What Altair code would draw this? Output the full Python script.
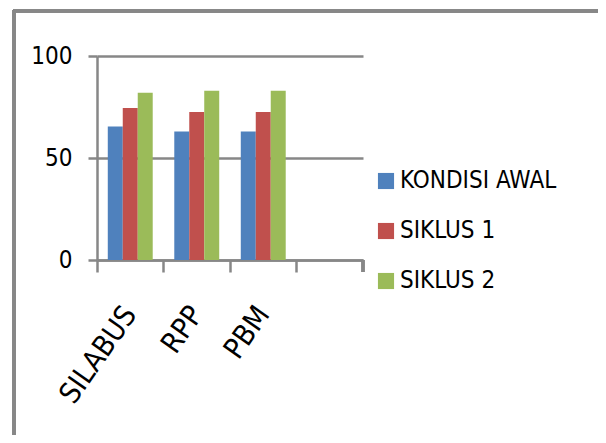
import altair as alt
import pandas as pd

categories = ["SILABUS", "RPP", "PBM"]
series = ["KONDISI AWAL", "SIKLUS 1", "SIKLUS 2"]
kondisi_awal = [65.5, 63, 63]
siklus_1 = [74.5, 72.5, 72.5]
siklus_2 = [82, 83, 83]
colors = ["#4F81BD", "#C0504D", "#9BBB59"]
y_ticks = [0, 50, 100]
x_domain = categories + [" "]

rows = []
for i, c in enumerate(categories):
    for s, vals in zip(series, [kondisi_awal, siklus_1, siklus_2]):
        rows.append({"kategori": c, "seri": s, "nilai": vals[i]})
df = pd.DataFrame(rows)

FONT = "DejaVu Sans Condensed, Liberation Sans Narrow, sans-serif"
GRAY = "#878787"
W, H = 266, 204

bars = alt.Chart(df).mark_bar().encode(
    x=alt.X("kategori:N", sort=x_domain,
            scale=alt.Scale(domain=x_domain, paddingInner=0, paddingOuter=0),
            axis=alt.Axis(title=None, bandPosition=0, labelOffset=0,
                          labelAngle=-55, labelAlign="right", labelBaseline="middle",
                          labelFont=FONT, labelFontSize=29, labelColor="black",
                          labelPadding=37, labelLimit=0, ticks=True, tickSize=12, tickWidth=2.5,
                          tickColor=GRAY, domainColor=GRAY, domainWidth=2.5,
                          grid=False)),
    xOffset=alt.XOffset("seri:N", sort=series,
                        scale=alt.Scale(paddingOuter=0.72, paddingInner=0)),
    y=alt.Y("nilai:Q", scale=alt.Scale(domain=[0, 100], nice=False),
            axis=alt.Axis(title=None, values=y_ticks, grid=True, gridColor=GRAY,
                          gridWidth=2.5, ticks=True, tickSize=9, tickWidth=2.5,
                          tickColor=GRAY, domainColor=GRAY, domainWidth=2.5,
                          labelFont=FONT, labelFontSize=24, labelColor="black",
                          labelPadding=16)),
    color=alt.Color("seri:N", sort=series,
                    scale=alt.Scale(domain=series, range=colors),
                    legend=alt.Legend(title=None, orient="none", legendX=277, legendY=113,
                                      symbolType="square", symbolSize=260,
                                      symbolStrokeWidth=0, labelFont=FONT,
                                      labelFontSize=24, labelColor="black",
                                      labelLimit=0, rowPadding=26, labelOffset=2)),
)

last_tick = alt.Chart(df).mark_rule(color=GRAY, strokeWidth=2.5).encode(
    x=alt.value(W), y=alt.value(H), y2=alt.value(H + 12)
)
top_border = alt.Chart(df).mark_rule(color=GRAY, strokeWidth=3).encode(
    x=alt.value(-84), x2=alt.value(520), y=alt.value(-45)
)
left_border = alt.Chart(df).mark_rule(color=GRAY, strokeWidth=3).encode(
    x=alt.value(-83), y=alt.value(-46), y2=alt.value(400)
)

chart = alt.layer(bars, last_tick, top_border, left_border).properties(
    width=W, height=H,
    autosize=alt.AutoSizeParams(type="none"),
    padding={"left": 89, "top": 48, "right": 235, "bottom": 175},
    background="white",
).configure_view(stroke=None)

chart.save("out.html", embed_options={"renderer": "svg", "actions": False})
